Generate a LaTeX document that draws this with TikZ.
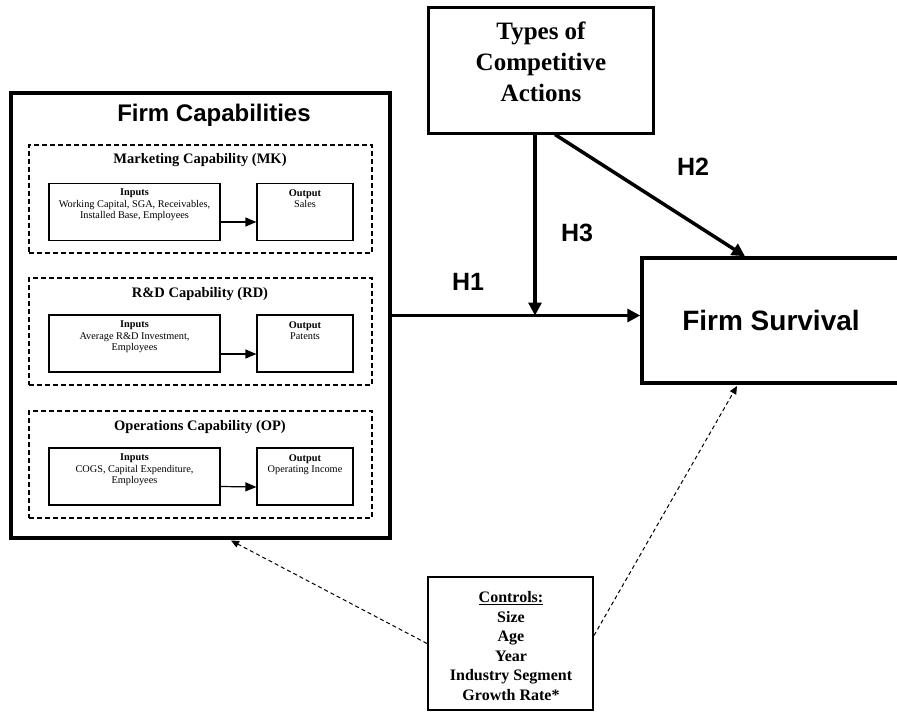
\documentclass[tikz,border=0pt]{standalone}
\usepackage{fontspec}
\setmainfont{Liberation Serif}
\setsansfont{Liberation Sans}
\usetikzlibrary{arrows.meta}
\begin{document}
\begin{tikzpicture}[x=1pt,y=-1pt,
  thickbox/.style={draw, line width=3.5pt, inner sep=0pt},
  dbox/.style={draw, line width=1.1pt, dash pattern=on 5pt off 3pt, inner sep=0pt, minimum width=343pt, minimum height=107pt},
  ibox/.style={draw, line width=1.2pt, inner sep=0pt, minimum height=57pt},
  itext/.style={font=\fontsize{10.3}{11.5}\selectfont, align=center, anchor=north, inner sep=0pt},
  dtitle/.style={font=\fontsize{14.5}{17}\selectfont\bfseries, inner sep=0pt},
  hlab/.style={font=\sffamily\bfseries\fontsize{25}{30}\selectfont, inner sep=0pt},
  harrow/.style={line width=3.5pt, -{Triangle[length=13pt,width=13pt]}},
  sarrow/.style={line width=1.2pt, -{Triangle[length=11pt,width=9pt]}},
  darrow/.style={line width=1pt, dash pattern=on 4pt off 3pt, -{Triangle[length=8pt,width=7pt]}}
]
\useasboundingbox (0,0) rectangle (897,712);

% Firm capabilities
\node[thickbox, minimum width=379pt, minimum height=445pt] (fcap) at (200.5,315.5) {};
\node[font=\sffamily\bfseries\fontsize{24}{28}\selectfont, inner sep=0pt] (fcaptitle) at (214,115) {Firm Capabilities};

% Marketing
\node[dbox, minimum height=108pt] (mk) at (200.5,199) {};
\node[dtitle] (mktitle) at (200,160) {Marketing Capability (MK)};
\node[ibox, minimum width=171pt] (mkin) at (134.5,212) {};
\node[itext] (mkintxt) at (134.5,189) {\textbf{Inputs}\\Working Capital, SGA, Receivables,\\Installed Base, Employees};
\node[ibox, minimum width=96pt] (mkout) at (305,212) {};
\node[itext] (mkouttxt) at (305,189) {\textbf{Output}\\Sales};
\draw[sarrow] ([yshift=-10pt]mkin.east) -- ([yshift=-10pt]mkout.west);

% R&D
\node[dbox] (rd) at (200.5,331.5) {};
\node[dtitle] (rdtitle) at (200,294) {R\&D Capability (RD)};
\node[ibox, minimum width=171pt] (rdin) at (134.5,343.5) {};
\node[itext] (rdintxt) at (134.5,321) {\textbf{Inputs}\\Average R\&D Investment,\\Employees};
\node[ibox, minimum width=96pt] (rdout) at (305,343.5) {};
\node[itext] (rdouttxt) at (305,321) {\textbf{Output}\\Patents};
\draw[sarrow] ([yshift=-10.5pt]rdin.east) -- ([yshift=-10.5pt]rdout.west);

% Operations
\node[dbox] (op) at (200.5,464.5) {};
\node[dtitle] (optitle) at (200,427) {Operations Capability (OP)};
\node[ibox, minimum width=171pt] (opin) at (134.5,476.5) {};
\node[itext] (opintxt) at (134.5,454) {\textbf{Inputs}\\COGS, Capital Expenditure,\\Employees};
\node[ibox, minimum width=96pt] (opout) at (305,476.5) {};
\node[itext] (opouttxt) at (305,454) {\textbf{Output}\\Operating Income};
\draw[sarrow] ([yshift=-10pt]opin.east) -- ([yshift=-10.5pt]opout.west);

% Types of competitive actions
\node[draw, line width=3pt, inner sep=0pt, minimum width=225pt, minimum height=126pt] (types) at (540.5,70) {};
\node[font=\bfseries\fontsize{25}{31}\selectfont, align=center, inner sep=0pt] (typestxt) at (541,62) {Types of\\Competitive\\Actions};

% Firm survival
\node[thickbox, minimum width=258pt, minimum height=125pt, font=\sffamily\bfseries\fontsize{28}{32}\selectfont] (fsurv) at (771,320.5) {Firm Survival};

% Controls
\node[draw, line width=2pt, inner sep=0pt, minimum width=165pt, minimum height=133pt] (ctrl) at (510.5,643.5) {};
\node[font=\bfseries\fontsize{16}{19.5}\selectfont, align=center, inner sep=0pt] (ctrltxt) at (511,646) {\underline{Controls:}\\Size\\Age\\Year\\Industry Segment\\Growth Rate*};

% Hypothesis arrows
\coordinate (m) at (535,315.5);
\coordinate (h2e) at (745,258);
\draw[harrow] (fcap.east) -- (fsurv.west |- fcap.east);
\draw[harrow] (types.south -| m) -- (m);
\draw[harrow] ([xshift=14.5pt]types.south) -- (fsurv.north -| h2e);

\node[hlab] (h1) at (468,282) {H1};
\node[hlab] (h2) at (693,167) {H2};
\node[hlab] (h3) at (577,233) {H3};

% Control arrows
\coordinate (ct1) at (231,540.5);
\coordinate (ct2) at (737,386);
\draw[darrow] (ctrl.west) -- (ct1);
\draw[darrow] ([yshift=8pt]ctrl.east) -- (ct2);
\end{tikzpicture}
\end{document}
